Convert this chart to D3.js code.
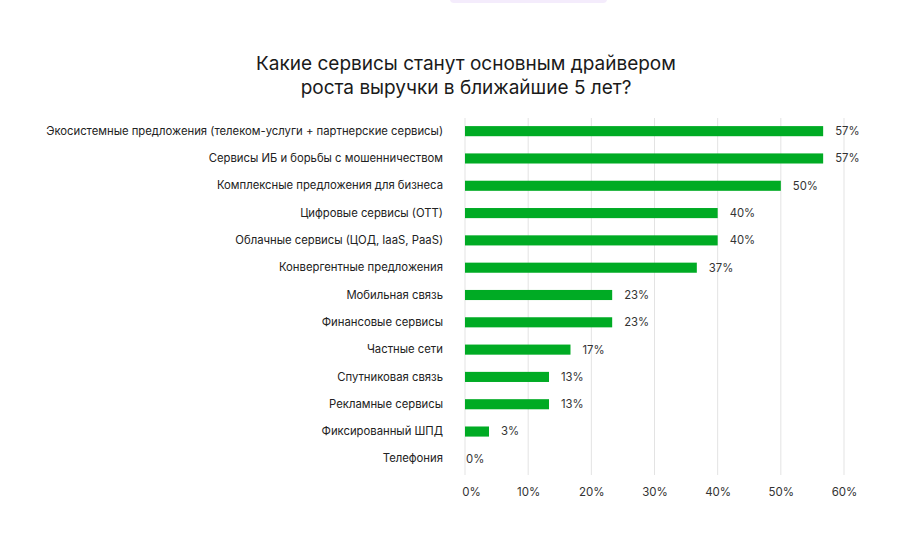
<!DOCTYPE html>
<html><head><meta charset="utf-8">
<script src="https://cdn.jsdelivr.net/npm/d3@7"></script>
<style>
html,body{margin:0;padding:0;background:#fff;}
svg{display:block;font-family:Inter,"Noto Sans",sans-serif;}
</style></head>
<body>
<svg id="chart" width="915" height="533"></svg>
<script>
const titleLines = ["Какие сервисы станут основным драйвером", "роста выручки в ближайшие 5 лет?"];
const categories = [
  "Экосистемные предложения (телеком-услуги + партнерские сервисы)",
  "Сервисы ИБ и борьбы с мошенничеством",
  "Комплексные предложения для бизнеса",
  "Цифровые сервисы (ОТТ)",
  "Облачные сервисы (ЦОД, IaaS, PaaS)",
  "Конвергентные предложения",
  "Мобильная связь",
  "Финансовые сервисы",
  "Частные сети",
  "Спутниковая связь",
  "Рекламные сервисы",
  "Фиксированный ШПД",
  "Телефония"
];
const values = [56.7, 56.7, 50, 40, 40, 36.7, 23.3, 23.3, 16.7, 13.3, 13.3, 3.8, 0];
const valueLabels = ["57%", "57%", "50%", "40%", "40%", "37%", "23%", "23%", "17%", "13%", "13%", "3%", "0%"];
const tickValues = [0, 10, 20, 30, 40, 50, 60];

const svg = d3.select("#chart");

// remnant of the text above (cropped)
svg.append("rect").attr("x", 450).attr("y", -6).attr("width", 157).attr("height", 9)
  .attr("rx", 4).attr("fill", "#f4ecfc");

const x = d3.scaleLinear().domain([0, 60]).range([465, 844]);
const y = d3.scaleBand().domain(categories).range([117.5, 472.5]).paddingInner(0.63).paddingOuter(0.315);

// title
svg.append("g").selectAll("text").data(titleLines).join("text")
  .attr("x", 466).attr("y", (d, i) => 70 + i * 24)
  .attr("text-anchor", "middle").attr("font-size", 19).attr("fill", "#1a1a1a")
  .text(d => d);

// gridlines
svg.append("g").selectAll("line").data(tickValues).join("line")
  .attr("x1", d => x(d)).attr("x2", d => x(d))
  .attr("y1", 118).attr("y2", 475)
  .attr("stroke", "#e3e3e3").attr("stroke-width", 1);

// x axis labels
const xAxis = d3.axisBottom(x).tickValues(tickValues).tickFormat(d => d + "%").tickSize(0).tickPadding(0);
const ax = svg.append("g").attr("transform", "translate(0,488)").call(xAxis);
ax.select(".domain").remove();
ax.selectAll("text").attr("font-size", 11.5).attr("fill", "#333").attr("font-family", "Inter,'Noto Sans',sans-serif")
  .attr("dy", "0.71em")
  .attr("dx", d => d === 0 ? 6 : 0);

// category labels
const ay = d3.axisLeft(y).tickSize(0).tickPadding(0);
const yg = svg.append("g").attr("transform", "translate(443,0)").call(ay);
yg.select(".domain").remove();
yg.selectAll("text").attr("font-size", 11.3).attr("fill", "#222").attr("font-family", "Inter,'Noto Sans',sans-serif");

// bars
svg.append("g").selectAll("rect").data(values).join("rect")
  .attr("x", x(0))
  .attr("y", (d, i) => y(categories[i]))
  .attr("width", d => x(d) - x(0))
  .attr("height", y.bandwidth())
  .attr("fill", "#00ab24");

// value labels
svg.append("g").selectAll("text").data(values).join("text")
  .attr("x", d => d > 0 ? x(d) + 12 : x(d) + 1)
  .attr("y", (d, i) => y(categories[i]) + y.bandwidth() / 2)
  .attr("dy", "0.35em")
  .attr("font-size", 11.3).attr("fill", "#333")
  .text((d, i) => valueLabels[i]);
</script>
</body></html>
